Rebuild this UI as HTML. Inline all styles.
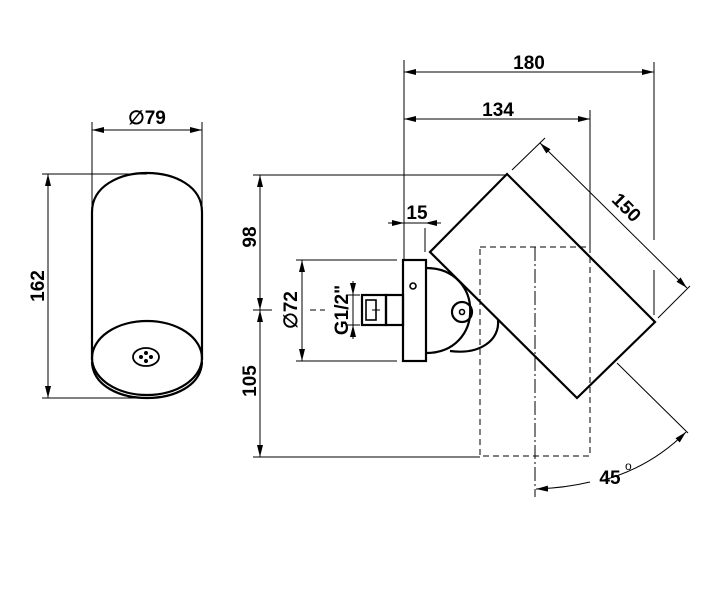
<!DOCTYPE html>
<html><head><style>
html,body{margin:0;padding:0;background:#fff}
svg{display:block}
text{font-family:"Liberation Sans",Arial,sans-serif;font-weight:bold;font-size:19px;fill:#000}
</style></head><body>
<svg width="725" height="598" viewBox="0 0 725 598" xmlns="http://www.w3.org/2000/svg">
<defs>
<marker id="a" viewBox="0 0 12 6" refX="12" refY="3" markerWidth="12" markerHeight="6" orient="auto-start-reverse" markerUnits="userSpaceOnUse"><path d="M0,0 L12,3 L0,6z" fill="#000"/></marker>
</defs>
<g stroke="#000" stroke-width="1" fill="none">
<line x1="92" y1="122" x2="92" y2="210"/>
<line x1="202" y1="122" x2="202" y2="210"/>
<line x1="92" y1="130" x2="202" y2="130" marker-start="url(#a)" marker-end="url(#a)"/>
<line x1="42" y1="174" x2="147" y2="174"/>
<line x1="42" y1="398" x2="147" y2="398"/>
<line x1="48" y1="174" x2="48" y2="398" marker-start="url(#a)" marker-end="url(#a)"/>
<g stroke-width="2.2">
<path d="M92,360 L92,212 C92,160 202,160 202,212 L202,360"/>
<ellipse cx="147" cy="358" rx="55" ry="37"/>
<path d="M92,362 C94,410 200,410 202,362"/>
<ellipse cx="146" cy="357" rx="13" ry="9" stroke-width="1.8"/>
</g>
<g fill="#000" stroke="none">
<circle cx="141" cy="357" r="2"/><circle cx="151" cy="357" r="2"/><circle cx="146" cy="353" r="2"/><circle cx="146" cy="361" r="2"/>
</g>

<line x1="253" y1="175" x2="507" y2="175"/>
<line x1="253" y1="457" x2="480" y2="457"/>
<line x1="260" y1="175" x2="260" y2="457"/>
<line x1="260" y1="195" x2="260" y2="175" marker-end="url(#a)"/>
<line x1="260" y1="290" x2="260" y2="310" marker-end="url(#a)"/>
<line x1="260" y1="330" x2="260" y2="310" marker-end="url(#a)"/>
<line x1="260" y1="437" x2="260" y2="457" marker-end="url(#a)"/>
<line x1="253" y1="310" x2="272" y2="310"/>
<line x1="310" y1="310" x2="325" y2="310" stroke-dasharray="6,4"/>
<line x1="296" y1="260" x2="397" y2="260"/>
<line x1="296" y1="361" x2="397" y2="361"/>
<line x1="302" y1="260" x2="302" y2="361" marker-start="url(#a)" marker-end="url(#a)"/>
<line x1="404" y1="60" x2="404" y2="260"/>
<line x1="425" y1="228" x2="425" y2="252"/>
<line x1="388" y1="223" x2="404" y2="223" marker-end="url(#a)"/>
<line x1="441" y1="223" x2="425" y2="223" marker-end="url(#a)"/>
<line x1="404" y1="223" x2="425" y2="223"/>
<line x1="346" y1="295" x2="360" y2="295"/>
<line x1="346" y1="325" x2="360" y2="325"/>
<line x1="353" y1="281" x2="353" y2="295" marker-end="url(#a)"/>
<line x1="353" y1="339" x2="353" y2="325" marker-end="url(#a)"/>
<line x1="353" y1="295" x2="353" y2="325"/>
<line x1="654" y1="62" x2="654" y2="240"/>
<line x1="654" y1="270" x2="654" y2="315"/>
<line x1="590" y1="110" x2="590" y2="247"/>
<line x1="404" y1="72" x2="654" y2="72" marker-start="url(#a)" marker-end="url(#a)"/>
<line x1="404" y1="119" x2="590" y2="119" marker-start="url(#a)" marker-end="url(#a)"/>
<line x1="512" y1="170" x2="545" y2="138"/>
<line x1="658" y1="318" x2="690" y2="286"/>
<line x1="540" y1="143" x2="687" y2="288" marker-start="url(#a)" marker-end="url(#a)"/>
<line x1="617" y1="363" x2="688" y2="433"/>
<line x1="535" y1="247" x2="535" y2="497" stroke-dasharray="14,3,2,3"/>
<path d="M600,481 Q650,468 686,432" marker-end="url(#a)"/>
<path d="M590,482 Q565,488 536,489" marker-end="url(#a)"/>
<rect x="480" y="247" width="110" height="209" stroke-dasharray="6,4"/>
<g stroke-width="2.2">
<rect x="403" y="260" width="23" height="101" fill="#fff"/>
<path d="M426,268 C485,268 485,353 426,353"/>
<path d="M450,351 C480,355 500,340 498,320"/>
<circle cx="462" cy="312" r="10"/>
<circle cx="462" cy="312" r="2.5" stroke-width="1.6"/>
<circle cx="413" cy="286" r="3" stroke-width="1.6"/>
<rect x="362" y="295" width="24" height="30"/>
<rect x="386" y="295" width="17" height="30"/>
<rect x="366" y="300" width="10" height="20" stroke-width="1.6"/>
<polygon points="507,174 655,322 577,398 430,252" fill="none"/>
</g>
<line x1="372" y1="310" x2="380" y2="310"/>
</g>
<text x="529" y="69" text-anchor="middle">180</text>
<text x="498" y="116" text-anchor="middle">134</text>
<text x="417" y="219" text-anchor="middle">15</text>
<text transform="translate(622,212) rotate(45)" text-anchor="middle">150</text>
<text x="610" y="484" text-anchor="middle">45</text>
<text x="625" y="470" style="font-size:12px;font-weight:normal">o</text>
<text x="147" y="124" text-anchor="middle">∅79</text>
<text transform="translate(44,286) rotate(-90)" text-anchor="middle">162</text>
<text transform="translate(256,237) rotate(-90)" text-anchor="middle">98</text>
<text transform="translate(256,381) rotate(-90)" text-anchor="middle">105</text>
<text transform="translate(297,310) rotate(-90)" text-anchor="middle">∅72</text>
<text transform="translate(348,310) rotate(-90)" text-anchor="middle">G1/2"</text>
</svg>
</body></html>
